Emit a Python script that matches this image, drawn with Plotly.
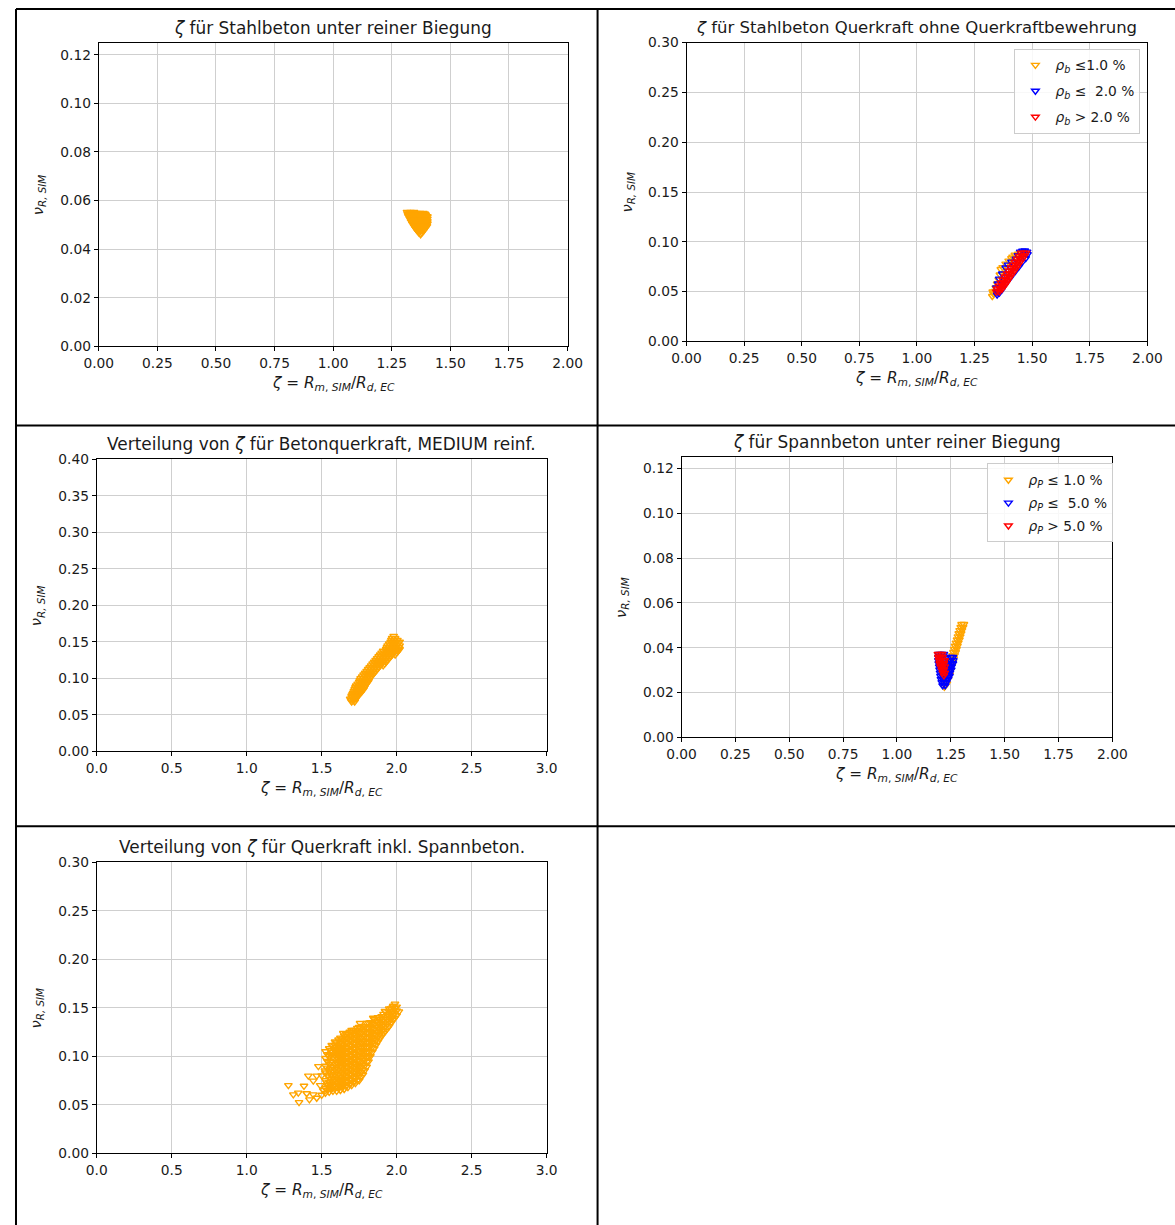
import plotly.graph_objects as go

# Measured mapping between figure pixels and the photographed page:
#   photo_x = 14.2 + 0.9752 * fig_x ,  photo_y = 7.4 + 0.9874 * fig_y
# All layout positions below are given in photo (reference) pixels and converted.
AX, SX, AY, SY = 14.2, 0.9752, 7.4, 0.9874
W, H = 1191, 1234
FONT = "DejaVu Sans"
ORANGE, BLUE, RED = "#FFA500", "#0000FF", "#FF0000"
GRID = "#cfcfcf"
FS = 1 / 0.98  # font compensation

# ------------------------------------------------------------------ data
# Plot 1: Stahlbeton unter reiner Biegung  (rows: nu value, list of zeta values)
sb_biegung_rows = [
    (0.0553, [1.315, 1.330, 1.345]),
    (0.0549, [1.325, 1.340, 1.355, 1.370, 1.385]),
    (0.0545, [1.318, 1.333, 1.348, 1.362, 1.377, 1.392]),
    (0.0540, [1.320, 1.335, 1.350, 1.365, 1.380, 1.395]),
    (0.0535, [1.322, 1.337, 1.352, 1.367, 1.382, 1.397, 1.402]),
    (0.0530, [1.330, 1.345, 1.360, 1.375, 1.390]),
    (0.0525, [1.327, 1.342, 1.357, 1.372, 1.387, 1.402]),
    (0.0520, [1.335, 1.350, 1.365, 1.380, 1.395]),
    (0.0515, [1.332, 1.347, 1.362, 1.377, 1.392, 1.402]),
    (0.0510, [1.340, 1.355, 1.370, 1.385, 1.400]),
    (0.0505, [1.338, 1.352, 1.367, 1.382, 1.397, 1.402]),
    (0.0500, [1.345, 1.360, 1.375, 1.390]),
    (0.0495, [1.345, 1.358, 1.372, 1.386, 1.400]),
    (0.0490, [1.350, 1.362, 1.375, 1.388]),
    (0.0485, [1.352, 1.365, 1.378, 1.392]),
    (0.0480, [1.356, 1.368, 1.380]),
    (0.0475, [1.360, 1.372, 1.385]),
    (0.0468, [1.366, 1.378]),
    (0.0461, [1.373]),
]

# Plot 2: Stahlbeton Querkraft ohne Querkraftbewehrung
qk_low_pts = [  # rho_b <= 1.0 %
    (1.327, 0.0455), (1.332, 0.0480), (1.329, 0.0500), (1.338, 0.0505),
    (1.342, 0.0540), (1.348, 0.0580), (1.355, 0.0620), (1.360, 0.0670),
    (1.364, 0.0725), (1.372, 0.0745), (1.385, 0.0780), (1.398, 0.0810),
    (1.410, 0.0835), (1.415, 0.0850), (1.425, 0.0870), (1.440, 0.0880),
    (1.455, 0.0895),
]
qk_mid_pts = [  # rho_b <= 2.0 %
    (1.348, 0.0470), (1.350, 0.0500), (1.345, 0.0540), (1.352, 0.0580),
    (1.357, 0.0629), (1.370, 0.0680), (1.385, 0.0740), (1.395, 0.0770),
    (1.410, 0.0800), (1.429, 0.0830), (1.438, 0.0865), (1.448, 0.0900),
    (1.458, 0.0910), (1.468, 0.0912), (1.478, 0.0900), (1.480, 0.0875),
    (1.472, 0.0835), (1.458, 0.0800), (1.442, 0.0750), (1.425, 0.0700),
    (1.405, 0.0640), (1.385, 0.0580), (1.368, 0.0520), (1.358, 0.0490),
]
qk_high_rows = [  # rho_b > 2.0 %
    (0.050, [1.345, 1.357]),
    (0.053, [1.348, 1.360, 1.370]),
    (0.056, [1.357, 1.369, 1.380]),
    (0.059, [1.365, 1.377, 1.389]),
    (0.062, [1.373, 1.385, 1.397]),
    (0.065, [1.381, 1.393, 1.405]),
    (0.068, [1.390, 1.402, 1.414]),
    (0.071, [1.399, 1.411, 1.423]),
    (0.074, [1.408, 1.420, 1.432]),
    (0.077, [1.416, 1.428, 1.440]),
    (0.080, [1.425, 1.437, 1.449]),
    (0.083, [1.434, 1.446, 1.458]),
    (0.086, [1.443, 1.455, 1.467]),
    (0.089, [1.452, 1.464, 1.474]),
]

# Plot 3: Betonquerkraft, MEDIUM reinf.
medium_rows = [
    (0.068, [1.70, 1.72]),
    (0.070, [1.695, 1.715]),
    (0.072, [1.69, 1.71, 1.73]),
    (0.074, [1.700, 1.720, 1.735]),
    (0.076, [1.70, 1.72, 1.74]),
    (0.078, [1.705, 1.725, 1.745]),
    (0.080, [1.71, 1.73, 1.75, 1.76]),
    (0.0825, [1.715, 1.735, 1.755, 1.77]),
    (0.085, [1.72, 1.74, 1.76, 1.78]),
    (0.0875, [1.725, 1.745, 1.765, 1.785]),
    (0.090, [1.73, 1.75, 1.77, 1.79]),
    (0.0925, [1.74, 1.76, 1.78, 1.80]),
    (0.095, [1.75, 1.77, 1.79, 1.81]),
    (0.0975, [1.755, 1.775, 1.795, 1.815]),
    (0.100, [1.76, 1.78, 1.80, 1.82]),
    (0.1025, [1.77, 1.79, 1.81, 1.83]),
    (0.105, [1.78, 1.80, 1.82, 1.84]),
    (0.1075, [1.79, 1.81, 1.83, 1.85]),
    (0.110, [1.80, 1.82, 1.84, 1.86]),
    (0.1125, [1.81, 1.83, 1.85, 1.87]),
    (0.115, [1.82, 1.84, 1.86, 1.88]),
    (0.1175, [1.83, 1.85, 1.87, 1.89, 1.91]),
    (0.120, [1.84, 1.86, 1.88, 1.90, 1.92]),
    (0.1225, [1.85, 1.87, 1.89, 1.91, 1.93]),
    (0.125, [1.86, 1.88, 1.90, 1.92, 1.94]),
    (0.1275, [1.87, 1.89, 1.91, 1.93, 1.95]),
    (0.130, [1.88, 1.90, 1.92, 1.94, 1.96]),
    (0.1325, [1.89, 1.91, 1.93, 1.95, 1.97, 1.99]),
    (0.135, [1.90, 1.92, 1.94, 1.96, 1.98, 2.00]),
    (0.1375, [1.91, 1.93, 1.95, 1.97, 1.99, 2.01]),
    (0.140, [1.93, 1.95, 1.97, 1.99, 2.01, 2.02]),
    (0.1425, [1.935, 1.955, 1.975, 1.995, 2.015]),
    (0.145, [1.94, 1.96, 1.98, 2.00, 2.02]),
    (0.1475, [1.95, 1.97, 1.99, 2.01]),
    (0.150, [1.96, 1.98, 2.00, 2.02]),
    (0.1525, [1.965, 1.985, 2.005]),
    (0.155, [1.97, 1.99]),
    (0.158, [1.98]),
]

# Plot 4: Spannbeton unter reiner Biegung
sp_low_rows = [  # rho_P <= 1.0 %
    (0.0505, [1.300, 1.311]),
    (0.0492, [1.296, 1.307]),
    (0.0478, [1.291, 1.302]),
    (0.0464, [1.287, 1.298]),
    (0.0450, [1.283, 1.294]),
    (0.0436, [1.279, 1.290]),
    (0.0422, [1.274, 1.285]),
    (0.0408, [1.270, 1.281]),
    (0.0394, [1.266, 1.277]),
    (0.0380, [1.262, 1.273]),
    (0.0366, [1.258, 1.268]),
    (0.0352, [1.254, 1.264]),
    (0.0338, [1.250, 1.260]),
    (0.0320, [1.245, 1.255]),
    (0.0300, [1.240, 1.250]),
    (0.0280, [1.235, 1.245]),
    (0.0260, [1.229, 1.238]),
    (0.0240, [1.224, 1.232]),
    (0.0225, [1.220]),
]
sp_mid_rows = [  # rho_P <= 5.0 %
    (0.0372, [1.194, 1.206, 1.218]),
    (0.0358, [1.192, 1.204, 1.216, 1.228, 1.250, 1.260]),
    (0.0344, [1.192, 1.204, 1.216, 1.228, 1.240, 1.250, 1.262]),
    (0.0330, [1.194, 1.206, 1.218, 1.230, 1.242, 1.252, 1.260]),
    (0.0316, [1.196, 1.208, 1.220, 1.232, 1.244, 1.254]),
    (0.0302, [1.198, 1.210, 1.222, 1.234, 1.246, 1.252]),
    (0.0288, [1.200, 1.212, 1.224, 1.236, 1.246]),
    (0.0274, [1.202, 1.214, 1.226, 1.238, 1.244]),
    (0.0260, [1.204, 1.216, 1.228, 1.238]),
    (0.0246, [1.208, 1.220, 1.230]),
    (0.0232, [1.212, 1.224]),
]
sp_high_rows = [  # rho_P > 5.0 %
    (0.0372, [1.190, 1.200, 1.210]),
    (0.0358, [1.192, 1.202, 1.212]),
    (0.0344, [1.195, 1.205, 1.215, 1.222]),
    (0.0330, [1.198, 1.208, 1.218]),
    (0.0316, [1.202, 1.212, 1.222]),
    (0.0302, [1.208, 1.218]),
    (0.0288, [1.213, 1.222]),
    (0.0276, [1.218]),
]

# Plot 5: Querkraft inkl. Spannbeton (columns: zeta value, list of nu values)
qk_spann_cols = [
    (1.525, [0.062, 0.067, 0.075, 0.083, 0.090, 0.098, 0.105]),
    (1.5375, [0.065, 0.070, 0.080, 0.088, 0.095, 0.102]),
    (1.550, [0.063, 0.068, 0.073, 0.078, 0.085, 0.092, 0.100, 0.108]),
    (1.5625, [0.066, 0.071, 0.076, 0.081, 0.087, 0.094, 0.101, 0.106]),
    (1.575, [0.064, 0.069, 0.074, 0.079, 0.084, 0.089, 0.094, 0.099, 0.104, 0.110]),
    (1.5875, [0.0665, 0.0715, 0.0765, 0.0815, 0.0865, 0.0915, 0.0965, 0.1015, 0.1065, 0.1115]),
    (1.600, [0.064, 0.069, 0.074, 0.079, 0.084, 0.089, 0.094, 0.099, 0.104, 0.109, 0.114]),
    (1.6125, [0.067, 0.072, 0.077, 0.082, 0.087, 0.092, 0.097, 0.102, 0.107, 0.112, 0.117]),
    (1.625, [0.065, 0.070, 0.075, 0.080, 0.085, 0.090, 0.095, 0.100, 0.105, 0.110, 0.115, 0.119]),
    (1.6375, [0.068, 0.073, 0.078, 0.083, 0.088, 0.093, 0.098, 0.103, 0.108, 0.113, 0.118]),
    (1.650, [0.066, 0.071, 0.076, 0.081, 0.086, 0.091, 0.096, 0.101, 0.106, 0.111, 0.116, 0.121]),
    (1.6625, [0.069, 0.074, 0.079, 0.084, 0.089, 0.094, 0.099, 0.104, 0.109, 0.114, 0.119, 0.123]),
    (1.675, [0.068, 0.073, 0.078, 0.083, 0.088, 0.093, 0.098, 0.103, 0.108, 0.113, 0.118, 0.123]),
    (1.6875, [0.071, 0.076, 0.081, 0.086, 0.091, 0.096, 0.101, 0.106, 0.111, 0.116, 0.121, 0.125]),
    (1.700, [0.070, 0.075, 0.080, 0.085, 0.090, 0.095, 0.100, 0.105, 0.110, 0.115, 0.120, 0.125]),
    (1.7125, [0.073, 0.078, 0.083, 0.088, 0.093, 0.098, 0.103, 0.108, 0.113, 0.118, 0.123, 0.127]),
    (1.725, [0.072, 0.077, 0.082, 0.087, 0.092, 0.097, 0.102, 0.107, 0.112, 0.117, 0.122, 0.127]),
    (1.7375, [0.075, 0.080, 0.085, 0.090, 0.095, 0.100, 0.105, 0.110, 0.115, 0.120, 0.125, 0.129]),
    (1.750, [0.075, 0.080, 0.085, 0.090, 0.095, 0.100, 0.105, 0.110, 0.115, 0.120, 0.125, 0.130]),
    (1.7625, [0.0785, 0.0835, 0.0885, 0.0935, 0.0985, 0.1035, 0.1085, 0.1135, 0.1185, 0.1235, 0.1285]),
    (1.775, [0.081, 0.086, 0.091, 0.096, 0.101, 0.106, 0.111, 0.116, 0.121, 0.126, 0.131]),
    (1.7875, [0.0855, 0.0905, 0.0955, 0.1005, 0.1055, 0.1105, 0.1155, 0.1205, 0.1255, 0.1305]),
    (1.800, [0.089, 0.094, 0.099, 0.104, 0.109, 0.114, 0.119, 0.124, 0.129, 0.134]),
    (1.8125, [0.0945, 0.0995, 0.1045, 0.1095, 0.1145, 0.1195, 0.1245, 0.1295, 0.1345]),
    (1.825, [0.100, 0.105, 0.110, 0.115, 0.120, 0.125, 0.130, 0.135]),
    (1.8375, [0.1045, 0.1095, 0.1145, 0.1195, 0.1245, 0.1295, 0.1345]),
    (1.850, [0.108, 0.113, 0.118, 0.123, 0.128, 0.133, 0.138]),
    (1.8625, [0.1115, 0.1165, 0.1215, 0.1265, 0.1315, 0.1365]),
    (1.875, [0.115, 0.120, 0.125, 0.130, 0.135, 0.140]),
    (1.8875, [0.118, 0.123, 0.128, 0.133, 0.138]),
    (1.900, [0.121, 0.126, 0.131, 0.136, 0.141]),
    (1.9125, [0.1235, 0.1285, 0.1335, 0.1385, 0.1435]),
    (1.925, [0.126, 0.131, 0.136, 0.141, 0.146]),
    (1.9375, [0.1285, 0.1335, 0.1385, 0.1435]),
    (1.950, [0.131, 0.136, 0.141, 0.146, 0.149]),
    (1.9625, [0.134, 0.139, 0.144, 0.149]),
    (1.975, [0.137, 0.142, 0.147, 0.151]),
    (1.9875, [0.1395, 0.1445, 0.1495]),
    (2.000, [0.142, 0.147, 0.151]),
    (2.015, [0.146]),
]
qk_spann_scatter = [
    (1.278, 0.0700), (1.311, 0.0605), (1.344, 0.0623), (1.349, 0.0525),
    (1.382, 0.0693), (1.400, 0.0616), (1.418, 0.0553), (1.444, 0.0605),
    (1.467, 0.0570), (1.411, 0.0798), (1.444, 0.0746), (1.478, 0.0896),
    (1.467, 0.0798), (1.500, 0.0600), (1.490, 0.0700), (1.500, 0.0800),
    (1.510, 0.0650), (1.522, 0.0850), (1.533, 0.0728), (1.567, 0.1114),
    (1.589, 0.1150), (1.600, 0.1060), (1.644, 0.1237), (1.700, 0.1270),
    (1.756, 0.1340), (1.844, 0.1395), (1.922, 0.1465), (1.978, 0.1518),
    (1.989, 0.1540),
]

titles = [
    "<i>ζ</i> für Stahlbeton unter reiner Biegung",
    "<i>ζ</i> für Stahlbeton Querkraft ohne Querkraftbewehrung",
    "Verteilung von <i>ζ</i> für Betonquerkraft, MEDIUM reinf.",
    "<i>ζ</i> für Spannbeton unter reiner Biegung",
    "Verteilung von <i>ζ</i> für Querkraft inkl. Spannbeton.",
]
legend_sb = ["<i>ρ<sub>b</sub></i> ≤1.0 %", "<i>ρ<sub>b</sub></i> ≤\u00a0 2.0 %", "<i>ρ<sub>b</sub></i> &gt; 2.0 %"]
legend_sp = ["<i>ρ<sub>P</sub></i> ≤ 1.0 %", "<i>ρ<sub>P</sub></i> ≤\u00a0 5.0 %", "<i>ρ<sub>P</sub></i> &gt; 5.0 %"]
XLABEL = "<i>ζ</i> = <i>R</i><sub><i>m</i>, <i>SIM</i></sub>/<i>R</i><sub><i>d</i>, <i>EC</i></sub>"
YLABEL = "<i>ν<sub>R, SIM</sub></i>"


# ------------------------------------------------------------------ helpers
def rows_xy(rows):
    xs, ys = [], []
    for y, xl in rows:
        for x in xl:
            xs.append(x)
            ys.append(y)
    return xs, ys


def cols_xy(cols):
    xs, ys = [], []
    for x, yl in cols:
        for y in yl:
            xs.append(x)
            ys.append(y)
    return xs, ys


def pts_xy(pts):
    return [p[0] for p in pts], [p[1] for p in pts]


def px(x):  # photo pixel -> paper fraction
    return ((x - AX) / SX) / W


def py(y):
    return 1 - ((y - AY) / SY) / H


# axes boxes in photo pixels: (left, right, top, bottom)
axes = [
    dict(box=(98, 567, 42, 346), xr=[0, 2], yr=[0, 0.125], xd=0.25, yd=0.02, xf=".2f"),
    dict(box=(686, 1147, 42, 341), xr=[0, 2], yr=[0, 0.30], xd=0.25, yd=0.05, xf=".2f"),
    dict(box=(96, 546, 459, 751), xr=[0, 3], yr=[0, 0.40], xd=0.5, yd=0.05, xf=".1f"),
    dict(box=(681, 1112, 457, 737), xr=[0, 2], yr=[0, 0.125], xd=0.25, yd=0.02, xf=".2f"),
    dict(box=(96, 546, 862, 1153), xr=[0, 3], yr=[0, 0.30], xd=0.5, yd=0.05, xf=".1f"),
]

fig = go.Figure()

MS, MLW = 6.7, 1.4


def add(xy, color, i, name=None, legend=None):
    xs, ys = xy
    sfx = "" if i == 1 else str(i)
    fig.add_trace(go.Scatter(
        x=xs, y=ys, mode="markers",
        marker=dict(symbol="triangle-down-open", size=MS, color=color, line=dict(width=MLW, color=color)),
        xaxis="x" + sfx, yaxis="y" + sfx,
        name=name or "", showlegend=name is not None,
        legend=legend or "legend", legendgroup=(name or "") + str(i),
        hoverinfo="skip",
    ))


add(rows_xy(sb_biegung_rows), ORANGE, 1)
add(pts_xy(qk_low_pts), ORANGE, 2, legend_sb[0], "legend")
add(pts_xy(qk_mid_pts), BLUE, 2, legend_sb[1], "legend")
add(rows_xy(qk_high_rows), RED, 2, legend_sb[2], "legend")
add(rows_xy(medium_rows), ORANGE, 3)
add(rows_xy(sp_low_rows), ORANGE, 4, legend_sp[0], "legend2")
add(rows_xy(sp_mid_rows), BLUE, 4, legend_sp[1], "legend2")
add(rows_xy(sp_high_rows), RED, 4, legend_sp[2], "legend2")
add(cols_xy(qk_spann_cols), ORANGE, 5)
add(pts_xy(qk_spann_scatter), ORANGE, 5)

layout = dict(
    width=W, height=H, autosize=False,
    margin=dict(l=0, r=0, t=0, b=0, pad=0),
    paper_bgcolor="white", plot_bgcolor="white",
    font=dict(family=FONT, size=13.5 * FS, color="#1a1a1a"),
    showlegend=True,
)

tickfont = dict(family=FONT, size=13.5 * FS, color="#1a1a1a")
annotations = []
for i, a in enumerate(axes, start=1):
    l, r, t, b = a["box"]
    sfx = "" if i == 1 else str(i)
    common = dict(showgrid=True, gridcolor=GRID, gridwidth=1, zeroline=False,
                  showline=True, mirror=True, linecolor="black", linewidth=1,
                  ticks="outside", ticklen=4, tickwidth=1, tickcolor="black",
                  tickfont=tickfont, fixedrange=True, tick0=0)
    layout["xaxis" + sfx] = dict(domain=[px(l), px(r)], range=a["xr"], dtick=a["xd"],
                                 tickformat=a["xf"], anchor="y" + sfx, **common)
    layout["yaxis" + sfx] = dict(domain=[py(b), py(t)], range=a["yr"], dtick=a["yd"],
                                 tickformat=".2f", anchor="x" + sfx, **common)
    cx = (l + r) / 2
    cy = (t + b) / 2
    title_size = 16.6 if i != 2 else 16.2
    annotations.append(dict(text=titles[i - 1], x=px(cx), y=py(t - 15), xref="paper", yref="paper",
                            xanchor="center", yanchor="middle", showarrow=False,
                            font=dict(family=FONT, size=title_size * FS, color="#1a1a1a")))
    annotations.append(dict(text=XLABEL, x=px(cx), y=py(b + 38), xref="paper", yref="paper",
                            xanchor="center", yanchor="middle", showarrow=False,
                            font=dict(family=FONT, size=15 * FS, color="#1a1a1a")))
    annotations.append(dict(text=YLABEL, x=px(l - 60), y=py(cy), xref="paper", yref="paper",
                            xanchor="center", yanchor="middle", showarrow=False, textangle=-90,
                            font=dict(family=FONT, size=14.5 * FS, color="#1a1a1a")))
layout["annotations"] = annotations

leg_common = dict(xanchor="left", yanchor="top", bgcolor="rgba(255,255,255,0.85)",
                  bordercolor="#cccccc", borderwidth=1, traceorder="grouped",
                  font=dict(family=FONT, size=13.5 * FS, color="#1a1a1a"),
                  itemclick=False, itemdoubleclick=False)
layout["legend"] = dict(x=px(1014), y=py(48), tracegroupgap=5, **leg_common)
layout["legend2"] = dict(x=px(987), y=py(463), tracegroupgap=2, **leg_common)

# table borders (photo pixels); the outer left/top edges sit at the figure edge
edge_x, edge_y = AX + 1.0, AY + 1.0
shapes = []
for (x0, y0, x1, y1) in [(edge_x, edge_y, 1175, edge_y), (edge_x, 425, 1175, 425),
                         (edge_x, 826, 1175, 826), (edge_x, edge_y, edge_x, 1225),
                         (597, edge_y, 597, 1225)]:
    shapes.append(dict(type="line", xref="paper", yref="paper", x0=px(x0), x1=px(x1),
                       y0=py(y0), y1=py(y1), line=dict(color="black", width=2)))
layout["shapes"] = shapes

fig.update_layout(**layout)
fig.write_html("out.html")
